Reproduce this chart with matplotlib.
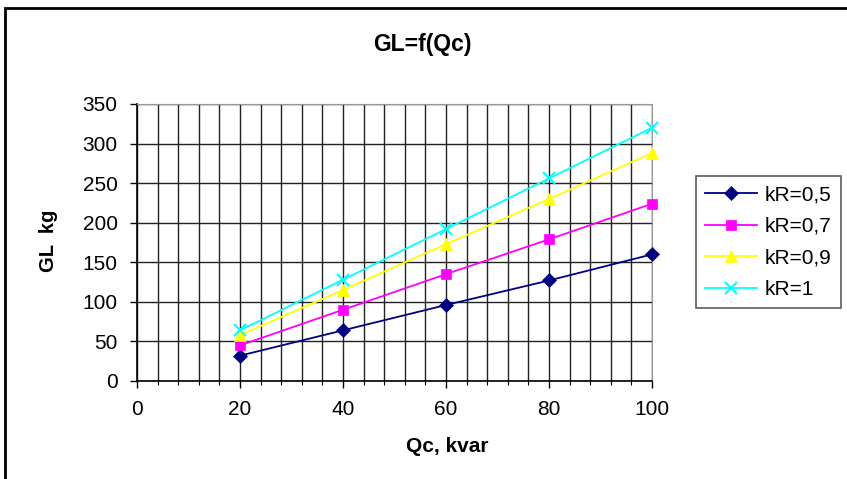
import matplotlib
matplotlib.use("Agg")
import matplotlib.pyplot as plt
from matplotlib.patches import Rectangle
from matplotlib.ticker import MultipleLocator

plt.rcParams["font.family"] = ["Liberation Sans", "DejaVu Sans"]

qc = [20, 40, 60, 80, 100]
gl_05 = [32, 64, 96, 127, 160]
gl_07 = [45, 90, 135, 179, 224]
gl_09 = [58, 115, 173, 230, 288]
gl_10 = [64, 128, 192, 256, 320]
labels = ["kR=0,5", "kR=0,7", "kR=0,9", "kR=1"]

W, H = 847, 479
fig = plt.figure(figsize=(W / 100, H / 100), dpi=100)
ax = fig.add_axes([137 / W, 1 - 381 / H, (652 - 137) / W, (381 - 104) / H])

styles = [
    ("#000080", "D", 7),
    ("#FF00FF", "s", 7),
    ("#FFFF00", "^", 8),
    ("#00FFFF", "x", 8),
]
for ys, lab, (c, m, ms) in zip([gl_05, gl_07, gl_09, gl_10], labels, styles):
    ax.plot(qc, ys, color=c, marker=m, markersize=ms, lw=1.3,
            markeredgewidth=1.5 if m == "x" else 0.5, label=lab, clip_on=False, zorder=3)

ax.set_xlim(0, 100)
ax.set_ylim(0, 350)
ax.xaxis.set_major_locator(MultipleLocator(20))
ax.xaxis.set_minor_locator(MultipleLocator(4))
ax.yaxis.set_major_locator(MultipleLocator(50))
ax.grid(which="major", axis="y", color="#222222", lw=1)
ax.grid(which="both", axis="x", color="#222222", lw=1)
ax.set_axisbelow(True)

for s in ["top", "right"]:
    ax.spines[s].set_color("#999999")
for s in ["left", "bottom"]:
    ax.spines[s].set_color("#000000")
    ax.spines[s].set_linewidth(1.2)

ax.tick_params(axis="both", which="major", direction="out", length=5, width=1,
               labelsize=15, pad=9)
ax.tick_params(axis="x", which="minor", direction="out", length=3, width=0.8)

# label positions in pixel terms, converted to axes fractions
pw, ph = 652 - 137, 381 - 104
ax.set_xlabel("Qc, kvar", fontsize=15, fontweight="bold")
ax.xaxis.set_label_coords((447 - 137) / pw, (381 - 437) / ph)
ax.set_ylabel("GL  kg", fontsize=14.5, fontweight="bold")
ax.yaxis.set_label_coords((58 - 137) / pw, (381 - 241) / ph)

fig.text(422 / W, 1 - 44 / H, "GL=f(Qc)", ha="center", va="center",
         fontsize=16.5, fontweight="bold")

leg = fig.legend(loc="upper left", bbox_to_anchor=(696 / W, 1 - 176 / H),
                 fontsize=15, frameon=True, fancybox=False, edgecolor="#333333",
                 handlelength=2.5, borderpad=0.45, labelspacing=0.6, handletextpad=0.35,
                 borderaxespad=0)
leg.get_frame().set_linewidth(1.2)

fig.patches.append(Rectangle((5 / W, -0.05), 1.1, 1 - 8 / H + 0.05, transform=fig.transFigure,
                             fill=False, edgecolor="black", lw=2, zorder=10))

fig.savefig("out.png", dpi=100)
